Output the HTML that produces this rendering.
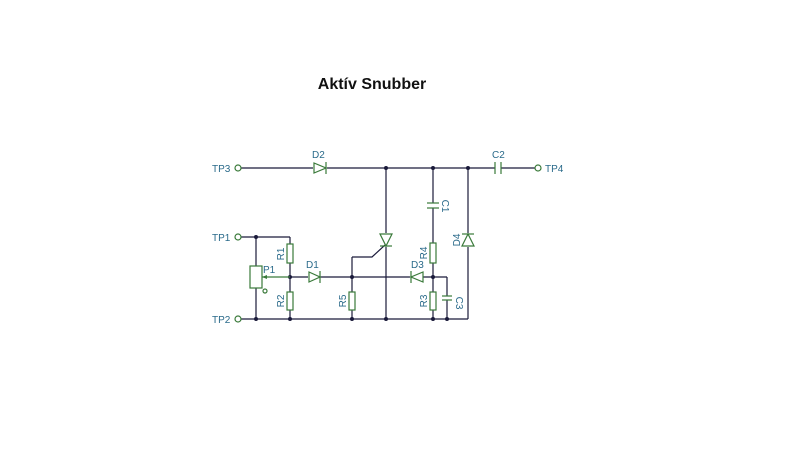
<!DOCTYPE html>
<html><head><meta charset="utf-8"><style>
html,body{margin:0;padding:0;background:#fff;}
svg{display:block}
text{font-family:"Liberation Sans",sans-serif;}
</style></head><body>
<svg width="800" height="475" viewBox="0 0 800 475" xmlns="http://www.w3.org/2000/svg">
<rect width="800" height="475" fill="#fff"/>
<text x="372" y="89" text-anchor="middle" font-size="16" font-weight="bold" fill="#111">Aktív Snubber</text>
<g stroke="#1a1a3a" stroke-width="1.2" fill="none">
<!-- top line -->
<line x1="241" y1="168" x2="313" y2="168"/><line x1="327" y1="168" x2="495" y2="168"/>
<line x1="501" y1="168" x2="535" y2="168"/>
<!-- TP1 line -->
<line x1="241" y1="237" x2="290" y2="237"/><line x1="290" y1="237" x2="290" y2="244"/>
<line x1="256" y1="237" x2="256" y2="266"/><line x1="256" y1="288" x2="256" y2="319"/>
<line x1="290" y1="263" x2="290" y2="292"/><line x1="290" y1="310" x2="290" y2="319"/>
<!-- bottom -->
<line x1="241" y1="319" x2="468" y2="319"/>
<!-- mid line -->
<line x1="290" y1="277" x2="308" y2="277"/><line x1="320" y1="277" x2="410" y2="277"/>
<line x1="423" y1="277" x2="447" y2="277"/><line x1="447" y1="277" x2="447" y2="296"/>
<line x1="447" y1="300" x2="447" y2="319"/>
<!-- R5 and gate -->
<line x1="352" y1="257" x2="352" y2="292"/><line x1="352" y1="310" x2="352" y2="319"/>
<polyline points="352,257 372,257 385,245"/>
<!-- thyristor vertical -->
<line x1="386" y1="168" x2="386" y2="233"/><line x1="386" y1="247" x2="386" y2="319"/>
<!-- C1 R4 R3 -->
<line x1="433" y1="168" x2="433" y2="203"/><line x1="433" y1="208" x2="433" y2="243"/>
<line x1="433" y1="263" x2="433" y2="292"/><line x1="433" y1="310" x2="433" y2="319"/>
<!-- D4 -->
<line x1="468" y1="168" x2="468" y2="233"/><line x1="468" y1="247" x2="468" y2="319"/>
</g>
<g fill="#1a1a3a">
<circle cx="386" cy="168" r="2"/><circle cx="433" cy="168" r="2"/><circle cx="468" cy="168" r="2"/>
<circle cx="256" cy="237" r="2"/><circle cx="290" cy="277" r="2"/><circle cx="352" cy="277" r="2"/>
<circle cx="433" cy="277" r="2"/>
<circle cx="256" cy="319" r="2"/><circle cx="290" cy="319" r="2"/><circle cx="352" cy="319" r="2"/>
<circle cx="386" cy="319" r="2"/><circle cx="433" cy="319" r="2"/><circle cx="447" cy="319" r="2"/>
</g>
<g stroke="#3a7a3a" stroke-width="1.2" fill="none">
<!-- terminals -->
<circle cx="238" cy="168" r="3"/><circle cx="238" cy="237" r="3"/><circle cx="238" cy="319" r="3"/><circle cx="538" cy="168" r="3"/>
<!-- D2 -->
<polygon points="314,163 314,173 326,168"/><line x1="326" y1="162" x2="326" y2="174"/>
<!-- D1 -->
<polygon points="309,272 309,282 320,277"/><line x1="320" y1="271" x2="320" y2="283"/>
<!-- D3 left -->
<polygon points="423,272 423,282 411,277"/><line x1="411" y1="271" x2="411" y2="283"/>
<!-- thyristor down -->
<polygon points="380,234 392,234 386,246"/><line x1="380" y1="246" x2="392" y2="246"/>
<!-- D4 up -->
<polygon points="462,246 474,246 468,234"/><line x1="462" y1="234" x2="474" y2="234"/>
<!-- resistors -->
<rect x="287" y="244" width="6" height="19"/><rect x="287" y="292" width="6" height="18"/>
<rect x="349" y="292" width="6" height="18"/><rect x="430" y="243" width="6" height="20"/>
<rect x="430" y="292" width="6" height="18"/>
<rect x="250" y="266" width="12" height="22"/>
<!-- wiper -->
<line x1="262" y1="277" x2="290" y2="277"/>
<circle cx="265" cy="291" r="2"/>
<!-- caps -->
<line x1="495" y1="162" x2="495" y2="174"/><line x1="501" y1="162" x2="501" y2="174"/>
<line x1="427" y1="203" x2="439" y2="203"/><line x1="427" y1="208" x2="439" y2="208"/>
<line x1="442" y1="296" x2="452" y2="296"/><line x1="442" y1="300" x2="452" y2="300"/>
</g>
<polygon points="262,277 267,275 267,279" fill="#3a7a3a"/>
<g fill="#2a6a8a" font-size="10">
<text x="212" y="172">TP3</text><text x="212" y="241">TP1</text><text x="212" y="323">TP2</text><text x="545" y="172">TP4</text>
<text x="312" y="158">D2</text><text x="306" y="268">D1</text><text x="411" y="268">D3</text>
<text x="492" y="158">C2</text><text x="263" y="273">P1</text>
<text transform="translate(284,254) rotate(-90)" text-anchor="middle">R1</text>
<text transform="translate(284,301) rotate(-90)" text-anchor="middle">R2</text>
<text transform="translate(346,301) rotate(-90)" text-anchor="middle">R5</text>
<text transform="translate(427,253) rotate(-90)" text-anchor="middle">R4</text>
<text transform="translate(427,301) rotate(-90)" text-anchor="middle">R3</text>
<text transform="translate(442,206) rotate(90)" text-anchor="middle">C1</text>
<text transform="translate(456,303) rotate(90)" text-anchor="middle">C3</text>
<text transform="translate(460,240) rotate(-90)" text-anchor="middle">D4</text>
</g>
</svg>
</body></html>
